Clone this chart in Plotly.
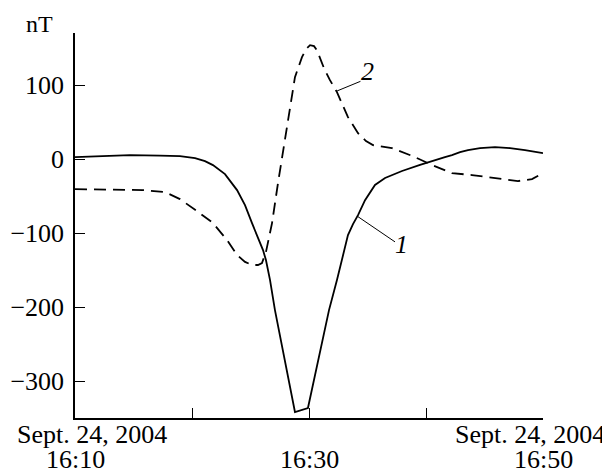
import plotly.graph_objects as go

# minutes after 16:10, Sept. 24, 2004
t1 = [0, 2.14, 4.70, 7.26, 8.97, 10.26, 11.11, 11.79, 12.82, 13.85, 14.53, 15.13, 15.64,
      16.07, 16.32, 16.67, 17.09, 17.95, 18.80, 19.91, 20.77, 21.71, 22.39, 22.82, 23.33,
      23.76, 24.19, 24.79, 25.21, 25.64, 26.50, 27.95, 29.49, 30.51, 31.62, 32.22, 32.91,
      33.59, 34.62, 35.90, 37.18, 38.46, 40.0]
v1 = [2.6, 3.9, 5.3, 4.6, 3.9, 1.2, -2.8, -8.2, -20.4, -42.0, -62.3, -86.7, -105.5,
      -123.1, -136.6, -163.6, -204.2, -271.7, -341.9, -336.5, -271.7, -204.2, -163.6, -136.6, -102.9,
      -88.0, -75.9, -55.6, -44.6, -35.1, -25.7, -16.2, -8.0, -2.6, 2.6, 5.3, 9.3,
      12.0, 14.7, 16.1, 14.7, 12.0, 8.0]

t2 = [0, 2.99, 5.81, 7.69, 8.97, 10.43, 11.79, 12.99, 13.85, 14.53, 15.13, 15.64, 15.98,
      16.32, 16.84, 17.35, 17.95, 18.38, 18.80, 19.40, 19.74, 20.09, 20.43, 20.68, 21.28,
      21.79, 22.39, 23.33, 24.19, 24.87, 25.47, 27.09, 29.06, 30.51, 32.22, 33.93, 35.90,
      37.86, 39.06, 40.0]
v2 = [-40.7, -41.3, -42.0, -44.7, -54.2, -70.4, -86.4, -109.4, -129.7, -139.1, -143.2, -143.2, -140.6,
      -125.7, -86.6, -32.5, 25.5, 70.1, 110.6, 137.6, 148.4, 153.8, 152.5, 147.1, 122.8,
      106.6, 90.4, 56.6, 35.0, 24.2, 18.8, 14.7, 2.6, -8.2, -19.0, -21.7, -25.8,
      -29.8, -27.1, -19.0]

x_ticks = [0, 10, 20, 30, 40]
x_time_labels = ["16:10", "16:30", "16:50"]
x_time_pos = [0, 20, 40]
date_label = "Sept. 24, 2004"
y_ticks = [-300, -200, -100, 0, 100]

FONT = "Liberation Serif"

fig = go.Figure()
fig.add_trace(go.Scatter(x=t1, y=v1, mode="lines",
                         line=dict(color="black", width=1.8), showlegend=False))
fig.add_trace(go.Scatter(x=t2, y=v2, mode="lines",
                         line=dict(color="black", width=1.8, dash="12px,7px"), showlegend=False))

fig.update_layout(
    width=602, height=462,
    margin=dict(l=67, r=67, t=25, b=52),
    paper_bgcolor="white", plot_bgcolor="white",
    font=dict(family=FONT, size=26, color="black"),
    xaxis=dict(range=[0, 40], tickvals=x_ticks, ticks="inside", ticklen=10, tickwidth=1,
               tickcolor="black", showline=True, linecolor="black", linewidth=1.5,
               showgrid=False, zeroline=False, showticklabels=False, automargin=False),
    yaxis=dict(range=[-350, 170.3], tickvals=y_ticks, ticks="inside", ticklen=10, tickwidth=1,
               tickcolor="black", showline=True, linecolor="black", linewidth=1.5,
               showgrid=False, zeroline=False, tickfont=dict(family=FONT, size=26),
               ticklabelstandoff=4, automargin=False),
)

ann = []
ann.append(dict(text="nT", xref="paper", yref="paper", x=0, y=1, xanchor="center", yanchor="middle",
                xshift=-36, yshift=9, showarrow=False, font=dict(family=FONT, size=24)))
ann.append(dict(text=date_label, xref="paper", yref="paper", x=0, y=0, xanchor="left", yanchor="middle",
                xshift=-60, yshift=-16, showarrow=False, font=dict(family=FONT, size=26)))
ann.append(dict(text=date_label, xref="paper", yref="paper", x=1, y=0, xanchor="right", yanchor="middle",
                xshift=64, yshift=-16, showarrow=False, font=dict(family=FONT, size=26)))
for tp, tl in zip(x_time_pos, x_time_labels):
    ann.append(dict(text=tl, xref="x", yref="paper", x=tp, y=0, xanchor="center", yanchor="middle",
                    yshift=-41, showarrow=False, font=dict(family=FONT, size=26)))
ann.append(dict(text="<i>2</i>", xref="x", yref="y", x=25.0, y=118, xanchor="center", yanchor="middle",
                showarrow=False, font=dict(family=FONT, size=26)))
ann.append(dict(text="<i>1</i>", xref="x", yref="y", x=27.9, y=-116, xanchor="center", yanchor="middle",
                showarrow=False, font=dict(family=FONT, size=26)))
fig.update_layout(annotations=ann)

fig.add_shape(type="line", xref="x", yref="y", x0=22.4, y0=92, x1=24.4, y1=105,
              line=dict(color="black", width=1))
fig.add_shape(type="line", xref="x", yref="y", x0=24.1, y0=-77, x1=27.35, y1=-112,
              line=dict(color="black", width=1))

fig.write_html("out.html")
